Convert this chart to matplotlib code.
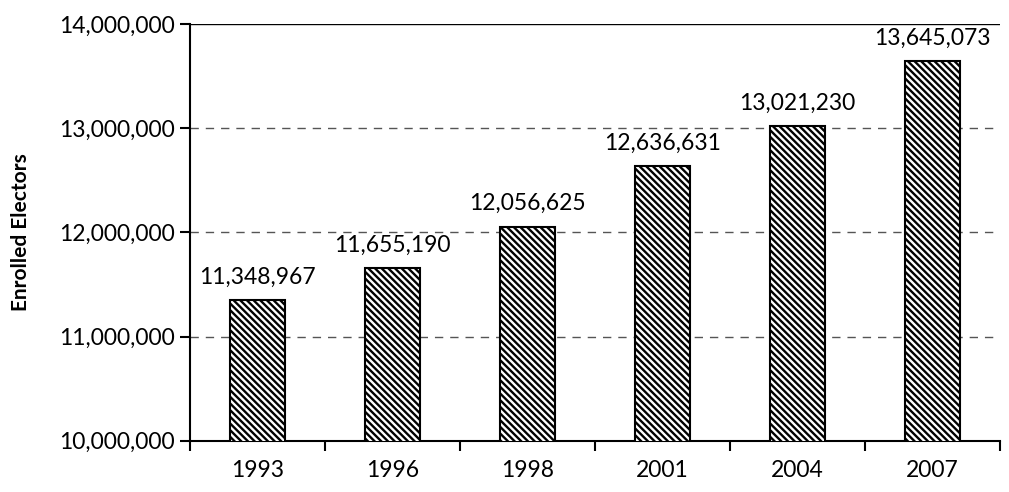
import matplotlib
matplotlib.use("Agg")
import matplotlib.pyplot as plt
from matplotlib.ticker import FuncFormatter, FixedLocator

years = ["1993", "1996", "1998", "2001", "2004", "2007"]
electors = [11348967, 11655190, 12056625, 12636631, 13021230, 13645073]

plt.rcParams['font.family'] = ['Lato', 'DejaVu Sans']
plt.rcParams['hatch.linewidth'] = 1.7
plt.rcParams['hatch.color'] = 'black'

fig = plt.figure(figsize=(10.09, 4.92), dpi=100)
ax = fig.add_axes([0.188, 0.104, 0.803, 0.847])

x = list(range(len(years)))
bars = ax.bar(x, electors, width=0.41, bottom=0, color='white',
              edgecolor='black', linewidth=1.5, hatch='\\\\\\\\\\', zorder=3)

ax.set_ylim(10000000, 14000000)
ax.set_xlim(-0.5, len(years) - 0.5)
ax.set_yticks([10000000, 11000000, 12000000, 13000000, 14000000])
ax.yaxis.set_major_formatter(FuncFormatter(lambda v, p: f"{int(v):,}"))

# category labels centred, ticks between categories
ax.set_xticks(x)
ax.set_xticklabels(years)
ax.tick_params(axis='x', which='major', length=0, pad=14, labelsize=16.5)
ax.xaxis.set_minor_locator(FixedLocator([i - 0.5 for i in range(len(years) + 1)]))
ax.tick_params(axis='x', which='minor', length=7, width=1.5, direction='out')
ax.tick_params(axis='y', length=7, width=1.5, direction='out', labelsize=16.5, pad=4)

for v in [11000000, 12000000, 13000000]:
    ax.axhline(v, color='#555555', linestyle=(0, (6, 5)), linewidth=1, zorder=1)
ax.axhline(14000000, color='black', linewidth=1, zorder=1)

for sp in ['top', 'right']:
    ax.spines[sp].set_visible(False)
ax.spines['left'].set_linewidth(1.5)
ax.spines['bottom'].set_linewidth(1.5)

for i, v in enumerate(electors):
    ax.annotate(f"{v:,}", (i, v), xytext=(0, 9), textcoords='offset points',
                ha='center', va='bottom', fontsize=16.5, annotation_clip=False)

ax.set_ylabel("Enrolled Electors", fontsize=15, fontweight='bold', labelpad=20)

fig.savefig("out.png", dpi=100)
